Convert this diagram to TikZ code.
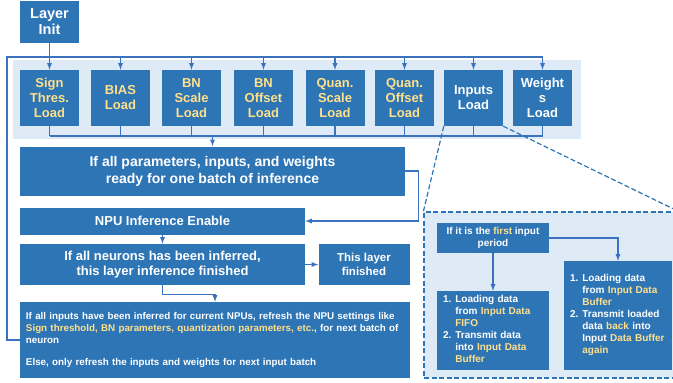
\documentclass[tikz,border=0pt]{standalone}
\usepackage{fontspec}
\setmainfont{Liberation Sans}

\definecolor{boxblue}{HTML}{2E75B6}
\definecolor{lineblue}{HTML}{3B72C0}
\definecolor{panelblue}{HTML}{DEEBF7}
\definecolor{paramyellow}{HTML}{FFE08A}
\newcommand{\yel}[1]{\textcolor{paramyellow}{#1}}

\tikzset{
  blk/.style={fill=boxblue, text=white, align=center, inner sep=0pt},
  ld/.style={blk, minimum width=59, minimum height=56, font=\bfseries\fontsize{13}{15}\selectfont},
  param/.style={ld, text=paramyellow},
  small/.style={blk, font=\bfseries\fontsize{10}{12}\selectfont},
  ln/.style={draw=lineblue, line width=1.3pt},
  arr/.style={ln, -latex},
  zoomline/.style={draw=boxblue, line width=1.2pt, dash pattern=on 5pt off 2.5pt}
}

\begin{document}
\begin{tikzpicture}[x=1pt, y=-1pt]
\clip (0,0) rectangle (673,383);

% panel behind the load units
\fill[panelblue] (13,60) rectangle (581,139);

\node[blk, minimum width=59, minimum height=42, font=\bfseries\fontsize{14.5}{16}\selectfont] (init) at (49.5,22) {Layer\\Init};

% load units
\node[param] (sign) at (49.5,98) {Sign\\Thres.\\Load};
\node[param] (bias) at (120.5,98) {BIAS\\Load};
\node[param] (bnscale) at (191.5,98) {BN\\Scale\\Load};
\node[param] (bnoffset) at (263.5,98) {BN\\Offset\\Load};
\node[param] (quanscale) at (335,98) {Quan.\\Scale\\Load};
\node[param] (quanoffset) at (404.5,98) {Quan.\\Offset\\Load};
\node[ld] (inputs) at (473.5,98) {Inputs\\Load};
\node[ld] (weights) at (542.5,98) {Weight\\s\\Load};

% control flow
\node[blk, minimum width=385, minimum height=49, font=\bfseries\fontsize{14}{17}\selectfont] (ready) at (212.5,171) {If all parameters, inputs, and weights\\ready for one batch of inference};
\node[blk, minimum width=285, minimum height=27, font=\bfseries\fontsize{13}{15}\selectfont] (npu) at (162.5,221) {NPU Inference Enable};
\node[blk, minimum width=285, minimum height=41, font=\bfseries\fontsize{13}{15}\selectfont] (neurons) at (162.5,264.5) {If all neurons has been inferred,\\this layer inference finished};
\node[blk, minimum width=91, minimum height=41, font=\bfseries\fontsize{11.5}{14}\selectfont] (done) at (364,264.5) {This layer\\finished};
\node[blk, font=\bfseries\fontsize{9.8}{12}\selectfont, minimum width=390, minimum height=76, align=left, text width=378, inner xsep=6pt] (refresh) at (215,340)
  {\mbox{If all inputs have been inferred for current NPUs, refresh the NPU settings like}\\
   \mbox{\yel{Sign threshold, BN parameters, quantization parameters, etc.}, for next batch of}\\
   neuron\\[10pt]
   \mbox{Else, only refresh the inputs and weights for next input batch}};

% connectors
\coordinate (busT) at (7,57);
\coordinate (busB) at (0,136);
\draw[arr] (init) -- (sign);
\draw[ln] (refresh.west) -| (busT) -- (busT -| weights);
\foreach \n in {bias,bnscale,bnoffset,quanscale,quanoffset,inputs,weights}
  \draw[arr] (busT -| \n) -- (\n.north);
\foreach \n in {sign,bias,bnscale,bnoffset,quanscale,quanoffset,inputs,weights}
  \draw[ln] (\n.south) -- (\n.south |- busB);
\draw[ln] (busB -| sign) -- (busB -| weights);
\draw[arr] (busB -| ready) -- (ready.north);
\draw[arr] (ready.east) -- ++(13,0) |- (npu.east);
\draw[arr] (npu) -- (neurons);
\draw[arr] (neurons) -- (done);
\draw[arr] (neurons.south) -- ++(0,9) -| (refresh.north);

% detail of the inputs load unit
\node[draw=boxblue, fill=panelblue, line width=1.2pt, dash pattern=on 5pt off 2.5pt, minimum width=254, minimum height=166, inner sep=0pt] (detail) at (551,295) {};
\draw[zoomline] (inputs.south west) -- (detail.north west);
\draw[zoomline] (inputs.south east) -- (detail.north east);

\node[small, minimum width=112, minimum height=30] (first) at (493,238) {If it is the \yel{first} input\\period};
\node[small, minimum width=112, minimum height=79, align=left, text width=100, inner xsep=6pt] (fifo) at (493,330.5)
  {\begin{tabular}{@{}l@{\hspace{4pt}}l@{}}
   1. & Loading data\\
      & from \yel{Input Data}\\
      & \yel{FIFO}\\
   2. & Transmit data\\
      & into \yel{Input Data}\\
      & \yel{Buffer}
   \end{tabular}};
\node[small, minimum width=108, minimum height=109, align=left, text width=96, inner xsep=6pt] (again) at (618,315.5)
  {\begin{tabular}{@{}l@{\hspace{4pt}}l@{}}
   1. & Loading data\\
      & from \yel{Input Data}\\
      & \yel{Buffer}\\
   2. & Transmit loaded\\
      & data \yel{back} into\\
      & Input \yel{Data Buffer}\\
      & \yel{again}
   \end{tabular}};
\draw[arr] (first) -- (fifo);
\draw[arr] (first.east) -| (again.north);
\end{tikzpicture}
\end{document}
